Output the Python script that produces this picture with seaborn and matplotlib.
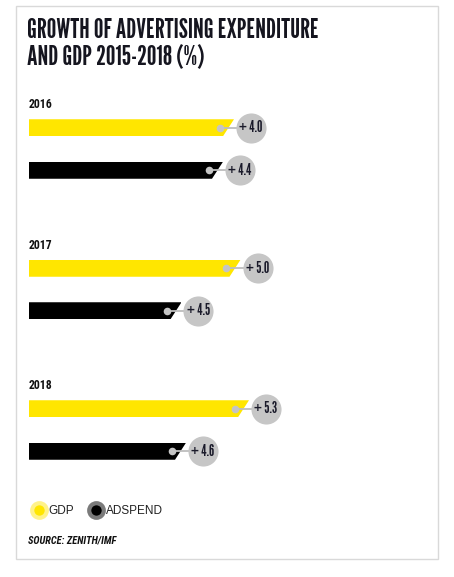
import numpy as np
import pandas as pd
import matplotlib
matplotlib.use('Agg')
import matplotlib.pyplot as plt
from matplotlib.patches import Polygon, Rectangle
from matplotlib.lines import Line2D
import seaborn as sns

# data
years = ['2016', '2017', '2018']
series = ['GDP', 'ADSPEND']
gdp_growth = [4.0, 5.0, 5.3]
adspend_growth = [4.4, 4.5, 4.6]
# drawn bar lengths (chart units) as they appear in the picture
gdp_bar = [4.10, 4.23, 4.40]
adspend_bar = [3.88, 3.05, 3.14]

colors = {'GDP': '#ffe600', 'ADSPEND': '#000000'}

sns.set_style('white')
TITLE_FONT = ['League Gothic', 'Liberation Sans Narrow', 'DejaVu Sans']
LABEL_FONT = ['League Gothic', 'Liberation Sans Narrow', 'DejaVu Sans']
COND_FONT = ['Roboto Condensed', 'Barlow Condensed', 'Liberation Sans Narrow', 'DejaVu Sans']
plt.rcParams['font.family'] = ['Liberation Sans', 'DejaVu Sans']

W, H = 454, 577
fig = plt.figure(figsize=(W / 100, H / 100), dpi=100)
fig.patch.set_facecolor('white')

def fx(px):
    return px / W

def fy(px):
    return 1 - px / H

# outer frame
fig.patches.append(Rectangle((fx(16), fy(559)), fx(438) - fx(16), fy(6) - fy(559),
                             transform=fig.transFigure, fill=False,
                             edgecolor='#d9d9d9', linewidth=1.0))

# title
fig.text(fx(27), fy(37.5), 'GROWTH OF ADVERTISING EXPENDITURE', fontsize=19.5,
         family=TITLE_FONT, color='#15151f', va='baseline')
fig.text(fx(27), fy(65.5), 'AND GDP 2015-2018 (%)', fontsize=19.5,
         family=TITLE_FONT, color='#15151f', va='baseline')

px_per_unit = 50.0
ax_left, ax_width = 29, 400
slot = 42.5
slant = 11 / px_per_unit

for i, year in enumerate(years):
    top = 106.5 + i * 140.5
    ax = fig.add_axes([fx(ax_left), fy(top + 2 * slot), fx(ax_width), 2 * slot / H])
    df = pd.DataFrame({'series': series,
                       'length': [gdp_bar[i], adspend_bar[i]],
                       'value': [gdp_growth[i], adspend_growth[i]]})
    sns.barplot(data=df, x='length', y='series', hue='series', palette=colors,
                orient='h', width=0.4, ax=ax, legend=False, saturation=1)
    ax.set_xlim(0, ax_width / px_per_unit)
    ax.set_ylim(1.5, -0.5)
    ax.axis('off')

    for patch in ax.patches:
        x0, y0 = patch.get_x(), patch.get_y()
        w, h = patch.get_width(), patch.get_height()
        clip = Polygon([(x0, y0), (x0 + w, y0), (x0 + w - slant, y0 + h), (x0, y0 + h)],
                       closed=True, transform=ax.transData)
        patch.set_clip_path(clip)
        patch.set_linewidth(0)
        yc = y0 + h / 2
        xd = x0 + w - 14 / px_per_unit
        xc = x0 + w + 17 / px_per_unit
        ax.plot([xd, xc], [yc, yc], color='#bdbdbd', lw=1.3, zorder=3, clip_on=False)
        ax.scatter([xd], [yc], s=30, color='#c4c4c4', zorder=4, clip_on=False, linewidths=0)
        ax.scatter([xc], [yc], s=470, color='#c6c6c6', zorder=4, clip_on=False, linewidths=0)

    for j, val in enumerate(df['value']):
        p = ax.patches[j]
        xc = p.get_x() + p.get_width() + 17 / px_per_unit
        yc = p.get_y() + p.get_height() / 2
        ax.text(xc, yc, f'+ {val:.1f}', ha='center', va='center', fontsize=11,
                family=LABEL_FONT, color='#1a1a2a', zorder=5)

    ax.text(0, 1 - 1.8 / (2 * slot), year, transform=ax.transAxes, ha='left',
            va='baseline', fontsize=8.5, fontweight='bold', family=COND_FONT,
            color='#111111')

# legend
handles = [Line2D([], [], linestyle='none', marker='o', markersize=10.5,
                  markerfacecolor=colors['GDP'], markeredgecolor='#fff28a',
                  markeredgewidth=3),
           Line2D([], [], linestyle='none', marker='o', markersize=10.5,
                  markerfacecolor=colors['ADSPEND'], markeredgecolor='#7a7a7a',
                  markeredgewidth=3)]
fig.legend(handles, series, loc='center left', bbox_to_anchor=(fx(27), fy(511.5)),
           ncol=2, frameon=False, fontsize=8.5, handletextpad=0.35, columnspacing=1.3,
           handlelength=1.0, borderpad=0, labelcolor='#222222')

fig.text(fx(28), fy(541), 'SOURCE: ZENITH/IMF', fontsize=7.5, style='italic',
         fontweight='bold', family=COND_FONT, color='#111111', va='center')

fig.savefig('out.png', dpi=100, facecolor='white')
